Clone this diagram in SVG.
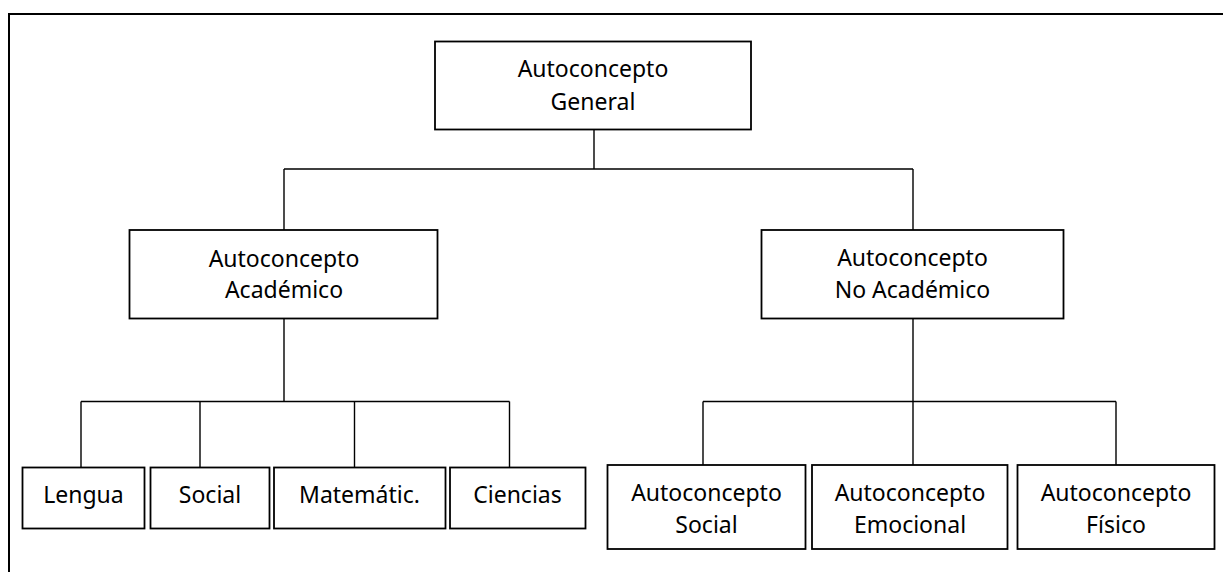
<svg xmlns="http://www.w3.org/2000/svg" width="1223" height="572" viewBox="0 0 1223 572">
<style>
.box{fill:#fff;stroke:#000;stroke-width:1.8}
.ln{fill:none;stroke:#000;stroke-width:1.4}
.frame{fill:none;stroke:#000;stroke-width:2}
text{font-family:"Noto Sans","Open Sans","Liberation Sans",sans-serif;font-size:23px;fill:#000;text-anchor:middle}
</style>
<rect width="1223" height="572" fill="#fff"/>
<path class="frame" d="M9,572 V14 H1223"/>
<g id="connectors">
<path class="ln" d="M594,129 V169 M284,169 H913 M284,169 V230 M913,169 V230"/>
<path class="ln" d="M284,318 V401.5 M81,401.5 H509.5 M81,401.5 V467 M200,401.5 V467 M354.5,401.5 V467 M509.5,401.5 V467"/>
<path class="ln" d="M913,318 V401.5 M703,401.5 H1116 M703,401.5 V465 M913,401.5 V465 M1116,401.5 V465"/>
</g>
<g id="general">
<rect class="box" x="435" y="41.5" width="316" height="88"/>
<text x="593" y="77">Autoconcepto</text>
<text x="593" y="110">General</text>
</g>
<g id="academico">
<rect class="box" x="129.5" y="230" width="308" height="88.5"/>
<text x="284" y="266.5">Autoconcepto</text>
<text x="284" y="297.5">Académico</text>
</g>
<g id="no-academico">
<rect class="box" x="761.5" y="230" width="302" height="88.5"/>
<text x="912.5" y="266">Autoconcepto</text>
<text x="912.5" y="297.5">No Académico</text>
</g>
<g id="lengua">
<rect class="box" x="22.5" y="467.5" width="122" height="61"/>
<text x="83.5" y="502.5">Lengua</text>
</g>
<g id="social">
<rect class="box" x="150.5" y="467.5" width="119" height="61"/>
<text x="210" y="502.5">Social</text>
</g>
<g id="matematic">
<rect class="box" x="274" y="467.5" width="171.5" height="61"/>
<text x="359.5" y="502.5">Matemátic.</text>
</g>
<g id="ciencias">
<rect class="box" x="450" y="467.5" width="135.5" height="61"/>
<text x="517.5" y="502.5">Ciencias</text>
</g>
<g id="ac-social">
<rect class="box" x="607.5" y="465" width="198" height="84"/>
<text x="706.5" y="500.5">Autoconcepto</text>
<text x="706.5" y="532.5">Social</text>
</g>
<g id="ac-emocional">
<rect class="box" x="812" y="465" width="195.5" height="84"/>
<text x="910" y="500.5">Autoconcepto</text>
<text x="910" y="532.5">Emocional</text>
</g>
<g id="ac-fisico">
<rect class="box" x="1017.5" y="465" width="197" height="84"/>
<text x="1116" y="500.5">Autoconcepto</text>
<text x="1116" y="532.5">Físico</text>
</g>
</svg>
